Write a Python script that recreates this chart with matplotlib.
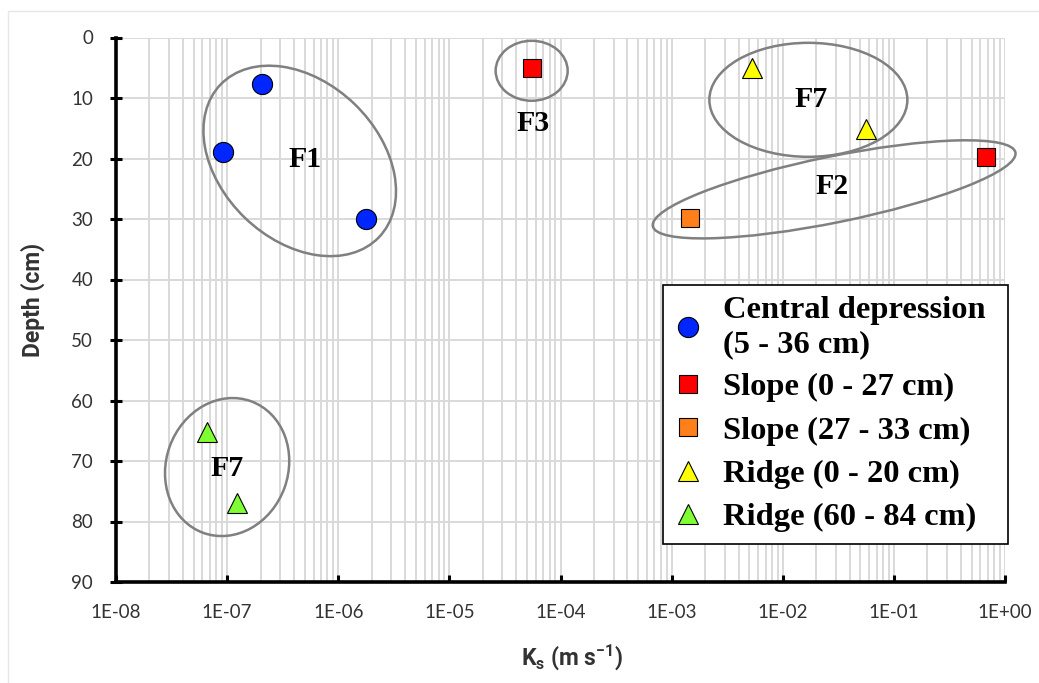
import numpy as np
import matplotlib
matplotlib.use("Agg")
import matplotlib.pyplot as plt
from matplotlib.patches import Ellipse, Rectangle
from matplotlib.transforms import ScaledTranslation
from matplotlib.ticker import FixedLocator, FuncFormatter, MultipleLocator, NullFormatter

plt.rcParams['mathtext.fontset'] = 'custom'
plt.rcParams['mathtext.rm'] = 'Roboto'
plt.rcParams['mathtext.bf'] = 'Roboto:bold'

# data: Ks (m/s) and depth (cm)
central_ks = [9.2e-8, 2.06e-7, 1.78e-6]
central_depth = [19, 7.7, 30]
slope_top_ks = [5.5e-5, 0.68]
slope_top_depth = [5, 19.7]
slope_low_ks = [1.47e-3]
slope_low_depth = [29.8]
ridge_top_ks = [5.3e-3, 5.6e-2]
ridge_top_depth = [5, 15.2]
ridge_low_ks = [6.6e-8, 1.23e-7]
ridge_low_depth = [65.2, 77]

series_labels = ['Central depression\n(5 - 36 cm)', 'Slope (0 - 27 cm)',
                 'Slope (27 - 33 cm)', 'Ridge (0 - 20 cm)', 'Ridge (60 - 84 cm)']

decades = list(range(-8, 1))

# group labels and the rings drawn round them
group_names = ['F1', 'F3', 'F7', 'F2', 'F7']
group_ks = [4.5e-7, 5.5e-5, 1.7e-2, 2.9e-2, 1.0e-7]
group_depth = [20.4, 5.5, 10.3, 25.1, 71.0]
label_ks = [5.0e-7, 5.6e-5, 1.8e-2, 2.8e-2, 1.0e-7]
label_depth = [20.2, 14.2, 10.3, 24.6, 71.2]
# ring size in pixels (width, height, angle)
ring_w = [220, 72, 198, 370, 140]
ring_h = [158, 60, 114, 66, 122]
ring_a = [-44, 0, 0, 11.5, 70]

fig = plt.figure(figsize=(10.39, 6.83), dpi=100)
fig.patches.append(Rectangle((8 / 1039, -0.01), 1.0, 1 - 11 / 683 + 0.01,
                             transform=fig.transFigure, fill=False,
                             edgecolor='#e6e6e6', linewidth=1))
ax = fig.add_axes([116 / 1039, 1 - 582 / 683, 889 / 1039, 544.5 / 683])

ax.set_xscale('log')
ax.set_xlim(1e-8, 1)
ax.set_ylim(90, 0)

major = [10.0 ** d for d in decades]
minor = [m * 10.0 ** d for d in decades[:-1] for m in range(2, 10)]
ax.xaxis.set_major_locator(FixedLocator(major))
ax.xaxis.set_minor_locator(FixedLocator(minor))
ax.xaxis.set_major_formatter(FuncFormatter(lambda v, p: '1E%+03d' % int(round(np.log10(v)))))
ax.xaxis.set_minor_formatter(NullFormatter())
ax.yaxis.set_major_locator(MultipleLocator(10))

ax.grid(True, which='both', axis='x', color='#d9d9d9', linewidth=1.4)
ax.grid(True, which='major', axis='y', color='#d9d9d9', linewidth=1.4)
ax.set_axisbelow(True)

for s in ['top', 'right']:
    ax.spines[s].set_visible(False)
for s in ['left', 'bottom']:
    ax.spines[s].set_linewidth(2.6)
    ax.spines[s].set_color('black')

ax.tick_params(axis='y', direction='inout', length=9, width=2.2, pad=12,
               labelsize=13.5, labelcolor='#333333')
ax.tick_params(axis='x', which='major', direction='in', length=5, width=2.2, pad=16,
               labelsize=13.5, labelcolor='#333333')
ax.tick_params(axis='x', which='minor', length=0)
for lab in ax.get_xticklabels() + ax.get_yticklabels():
    lab.set_fontfamily('Lato')

fig.text(33 / 1039, 1 - 300 / 683, 'Depth (cm)', rotation=90, ha='center', va='center',
         fontsize=16.5, fontweight='bold', family='Roboto', color='#333333')
fig.text(572 / 1039, 1 - 657 / 683, r'$\mathbf{K_s}$ (m s$\mathbf{^{-1}}$)',
         ha='center', va='center', fontsize=16.5, fontweight='bold',
         family='Roboto', color='#333333')

ec = 'black'
ax.plot(central_ks, central_depth, 'o', ms=14.5, mfc='#0026ff', mec=ec, mew=0.8,
        label=series_labels[0], clip_on=False)
ax.plot(slope_top_ks, slope_top_depth, 's', ms=13, mfc='#ff0000', mec=ec, mew=0.8,
        label=series_labels[1], clip_on=False)
ax.plot(slope_low_ks, slope_low_depth, 's', ms=13, mfc='#ff7f1a', mec=ec, mew=0.8,
        label=series_labels[2], clip_on=False)
ax.plot(ridge_top_ks, ridge_top_depth, '^', ms=14, mfc='#ffff00', mec=ec, mew=0.8,
        label=series_labels[3], clip_on=False)
ax.plot(ridge_low_ks, ridge_low_depth, '^', ms=14, mfc='#7fff33', mec=ec, mew=0.8,
        label=series_labels[4], clip_on=False)

# rings, sized in screen pixels around a data-space centre
for name, cx, cy, lx, ly, w, h, a in zip(group_names, group_ks, group_depth,
                                        label_ks, label_depth, ring_w, ring_h, ring_a):
    tr = fig.dpi_scale_trans + ScaledTranslation(cx, cy, ax.transData)
    ax.add_patch(Ellipse((0, 0), w / 100, h / 100, angle=a, transform=tr,
                         fill=False, edgecolor='#808080', linewidth=1.8,
                         clip_on=False))
    ax.text(lx, ly, name, ha='center', va='center', fontsize=21.5,
            fontweight='bold', family='Liberation Serif')

leg = ax.legend(loc='upper left',
                bbox_to_anchor=(663 / 1039, 1 - 544 / 683, 345 / 1039, 259 / 683),
                bbox_transform=fig.transFigure, mode='expand', frameon=True,
                fancybox=False, framealpha=1, edgecolor='black', borderpad=0.35,
                handletextpad=0.65, handlelength=0.85, labelspacing=0.42,
                borderaxespad=0,
                prop={'family': 'Liberation Serif', 'weight': 'bold', 'size': 23.4})
leg.get_frame().set_linewidth(1.2)

fig.savefig('out.png', dpi=100)
